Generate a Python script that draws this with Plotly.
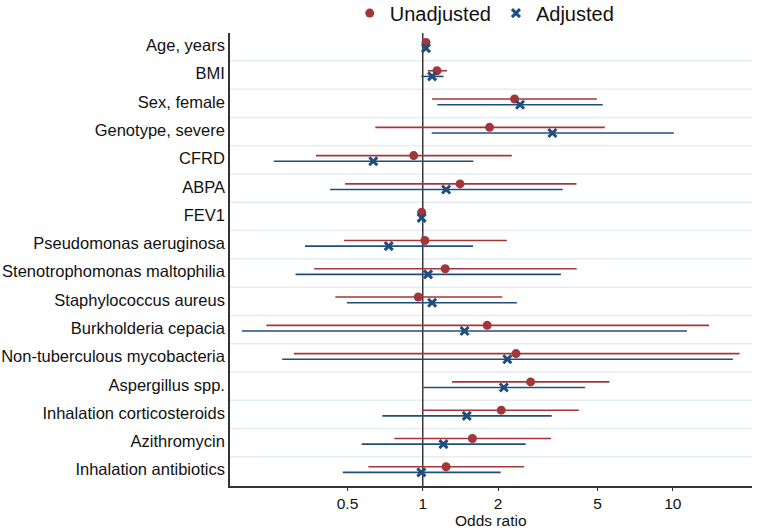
import plotly.graph_objects as go

categories = [
    "Age, years", "BMI", "Sex, female", "Genotype, severe", "CFRD", "ABPA", "FEV1",
    "Pseudomonas aeruginosa", "Stenotrophomonas maltophilia", "Staphylococcus aureus",
    "Burkholderia cepacia", "Non-tuberculous mycobacteria", "Aspergillus spp.",
    "Inhalation corticosteroids", "Azithromycin", "Inhalation antibiotics",
]

unadj_or = [1.03, 1.14, 2.33, 1.85, 0.92, 1.41, 0.99, 1.02, 1.23, 0.96, 1.81, 2.36, 2.70, 2.06, 1.58, 1.24]
unadj_lo = [1.01, 1.05, 1.09, 0.646, 0.374, 0.489, 0.98, 0.484, 0.368, 0.447, 0.237, 0.305, 1.31, 1.00, 0.77, 0.606]
unadj_hi = [1.05, 1.25, 4.97, 5.35, 2.27, 4.12, 1.00, 2.17, 4.13, 2.08, 13.97, 18.5, 5.58, 4.21, 3.26, 2.54]

adj_or = [1.03, 1.09, 2.45, 3.30, 0.634, 1.24, 0.99, 0.731, 1.05, 1.09, 1.47, 2.18, 2.11, 1.50, 1.21, 0.987]
adj_lo = [1.01, 0.987, 1.144, 1.086, 0.2535, 0.426, 0.98, 0.338, 0.310, 0.497, 0.189, 0.274, 1.006, 0.689, 0.570, 0.479]
adj_hi = [1.05, 1.21, 5.25, 10.1, 1.594, 3.63, 1.00, 1.59, 3.57, 2.38, 11.4, 17.4, 4.46, 3.28, 2.58, 2.05]

tick_vals = [0.5, 1, 2, 5, 10]
tick_text = ["0.5", "1", "2", "5", "10"]

RED = "#a3363b"
BLUE = "#1f4e7c"
FONT = "Liberation Sans, Arial, sans-serif"

rows = list(range(1, len(categories) + 1))
off = 0.1

fig = go.Figure()
fig.add_trace(go.Scatter(
    x=unadj_or, y=[r - off for r in rows], mode="markers", name="Unadjusted",
    marker=dict(symbol="circle", size=9, color=RED),
    error_x=dict(type="data", symmetric=False,
                 array=[h - v for h, v in zip(unadj_hi, unadj_or)],
                 arrayminus=[v - l for v, l in zip(unadj_or, unadj_lo)],
                 color=RED, thickness=1.6, width=0),
))
fig.add_trace(go.Scatter(
    x=adj_or, y=[r + off for r in rows], mode="markers", name="Adjusted",
    marker=dict(symbol="x-thin", size=8, color=BLUE, line=dict(width=3, color=BLUE)),
    error_x=dict(type="data", symmetric=False,
                 array=[h - v for h, v in zip(adj_hi, adj_or)],
                 arrayminus=[v - l for v, l in zip(adj_or, adj_lo)],
                 color=BLUE, thickness=1.6, width=0),
))

shapes = []
for r in rows[:-1]:
    shapes.append(dict(type="line", xref="paper", yref="y", x0=0, x1=1, y0=r + 0.55, y1=r + 0.55,
                       line=dict(color="#e6edf0", width=1.5), layer="below"))
shapes.append(dict(type="line", xref="x", yref="paper", x0=1, x1=1, y0=0, y1=1,
                   line=dict(color="#3a3a3a", width=1.5), layer="below"))

fig.update_layout(
    width=764, height=530,
    margin=dict(l=230, r=12, t=33, b=44, autoexpand=False),
    paper_bgcolor="white", plot_bgcolor="white",
    font=dict(family=FONT, color="#111111"),
    shapes=shapes,
    legend=dict(orientation="h", x=0.488, xanchor="center", y=1.044, yanchor="middle",
                font=dict(size=20, family=FONT), itemwidth=30,
                bgcolor="rgba(0,0,0,0)"),
    annotations=[dict(text="Odds ratio", xref="paper", yref="paper", x=0.5, xanchor="center",
                      y=-0.0971, yanchor="bottom", showarrow=False, borderpad=0,
                      font=dict(size=15.5, family=FONT, color="#111111"))],
    xaxis=dict(type="log", range=[-0.771, 1.317], tickvals=tick_vals, ticktext=tick_text,
               showgrid=False, zeroline=False, showline=True, linecolor="#333333", linewidth=1.5,
               ticks="outside", ticklen=3, tickcolor="#333333", tickfont=dict(size=15.5)),
    yaxis=dict(range=[16.58, 0.565], tickvals=rows, ticktext=categories,
               showgrid=False, zeroline=False, showline=True, linecolor="#333333", linewidth=1.5,
               ticks="", tickfont=dict(size=16.5)),
)

fig.write_html("out.html", config={"displayModeBar": False},
               post_script="document.body.style.margin='0';document.body.style.padding='0';"
                           "document.body.style.overflow='hidden';")
